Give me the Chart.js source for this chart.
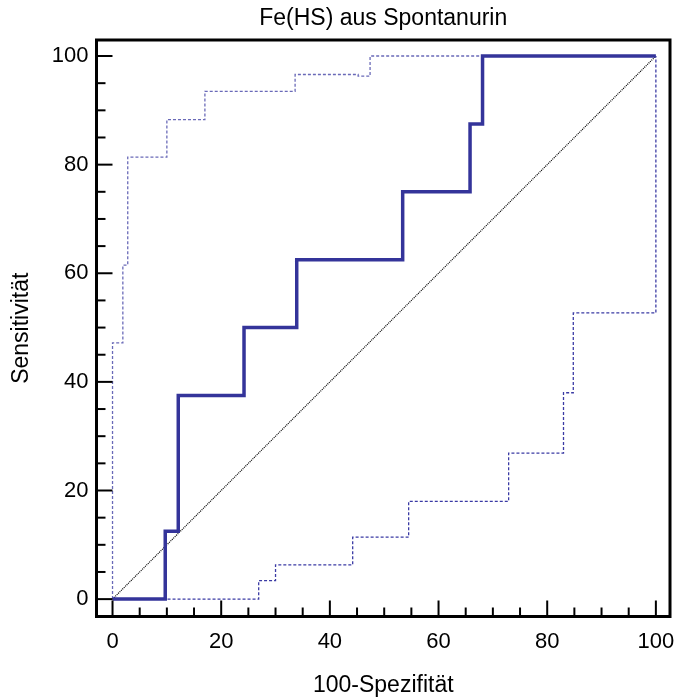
<!DOCTYPE html>
<html>
<head>
<meta charset="utf-8">
<script src="https://cdn.jsdelivr.net/npm/chart.js@4.4.1/dist/chart.umd.min.js"></script>
<style>
  html, body { margin: 0; padding: 0; background: #fff; }
  #wrap { width: 677px; height: 699px; }
</style>
</head>
<body>
<div id="wrap"><canvas id="roc"></canvas></div>
<script>
// ROC curve (100-Spezifität vs Sensitivität)
var rocFpr = [0, 9.7, 12.1, 24.2, 33.9, 53.4, 65.8, 68.1, 100];
var rocTpr = [0, 12.5, 37.5, 50, 62.5, 75, 87.5, 100, 100];

// upper confidence bound
var upperFpr = [0, 1.9, 2.8, 10, 17, 33.6, 45.2, 47.4, 100];
var upperTpr = [0, 47.2, 61.5, 81.4, 88.3, 93.5, 96.6, 96.3, 100];

// lower confidence bound
var lowerFpr = [0, 26.9, 30, 44.2, 54.5, 72.9, 83, 84.8, 100];
var lowerTpr = [0, 3.4, 6.3, 11.4, 18, 26.9, 38, 52.7, 100];

var diagX = [0, 100];
var diagY = [0, 100];

var tickValues = [0, 20, 40, 60, 80, 100];
var minorStep = 5;

function pts(xs, ys) {
  return xs.map(function (x, i) { return { x: x, y: ys[i] }; });
}

var FONT = "'Liberation Sans', Arial, sans-serif";

// frame + inward tick marks
var framePlugin = {
  id: 'frame',
  afterDraw: function (chart) {
    var ctx = chart.ctx, a = chart.chartArea;
    var sx = chart.scales.x, sy = chart.scales.y;
    ctx.save();
    ctx.strokeStyle = '#000';
    ctx.lineWidth = 2;
    for (var v = 0; v <= 100; v += minorStep) {
      var len = (v % 20 === 0) ? 16 : 9;
      var px = sx.getPixelForValue(v);
      ctx.beginPath();
      ctx.moveTo(px, a.bottom);
      ctx.lineTo(px, a.bottom - len);
      ctx.stroke();
      var py = sy.getPixelForValue(v);
      ctx.beginPath();
      ctx.moveTo(a.left, py);
      ctx.lineTo(a.left + len, py);
      ctx.stroke();
    }
    ctx.lineWidth = 3;
    ctx.strokeRect(a.left, a.top, a.right - a.left, a.bottom - a.top);
    ctx.restore();
  }
};

var ctx = document.getElementById('roc').getContext('2d');
var rocChart = new Chart(ctx, {
  type: 'line',
  data: {
    datasets: [{
      label: 'ROC',
      data: pts(rocFpr, rocTpr),
      stepped: 'before',
      borderColor: '#34349a',
      borderWidth: 3.5,
      pointRadius: 0,
      fill: false
    }, {
      label: 'upper',
      data: pts(upperFpr, upperTpr),
      stepped: 'after',
      borderColor: '#6a6ab8',
      borderWidth: 1.3,
      borderDash: [3, 2],
      pointRadius: 0,
      fill: false
    }, {
      label: 'lower',
      data: pts(lowerFpr, lowerTpr),
      stepped: 'before',
      borderColor: '#3a3aa4',
      borderWidth: 1.3,
      borderDash: [3, 2],
      pointRadius: 0,
      fill: false
    }, {
      label: 'diag',
      data: pts(diagX, diagY),
      borderColor: '#000',
      borderWidth: 1.2,
      borderDash: [1, 1],
      pointRadius: 0,
      fill: false
    }]
  },
  options: {
    responsive: true,
    maintainAspectRatio: false,
    animation: false,
    layout: { padding: { left: 0, right: 7, top: 0, bottom: 0 } },
    plugins: {
      legend: { display: false },
      tooltip: { enabled: false },
      title: {
        display: true,
        text: 'Fe(HS) aus Spontanurin',
        fullSize: false,
        color: '#000',
        font: { family: FONT, size: 23, weight: 'normal' },
        padding: { top: 5, bottom: 7.4 }
      }
    },
    scales: {
      x: {
        type: 'linear',
        min: -2.95,
        max: 102.6,
        grid: { display: false, drawTicks: false },
        border: { display: false },
        afterBuildTicks: function (s) {
          s.ticks = tickValues.map(function (v) { return { value: v }; });
        },
        afterFit: function (s) {
          s.height = 82.5;
          s.paddingLeft = 0;
          s.paddingRight = 0;
        },
        ticks: {
          color: '#000',
          padding: 12,
          maxRotation: 0,
          font: { family: FONT, size: 22 }
        },
        title: {
          display: true,
          text: '100-Spezifität',
          color: '#000',
          font: { family: FONT, size: 23 },
          padding: { top: 0, bottom: 0 }
        }
      },
      y: {
        type: 'linear',
        min: -3.2,
        max: 102.95,
        grid: { display: false, drawTicks: false },
        border: { display: false },
        afterBuildTicks: function (s) {
          s.ticks = tickValues.map(function (v) { return { value: v }; });
        },
        afterFit: function (s) {
          s.width = 96.5;
          s.paddingTop = 0;
          s.paddingBottom = 0;
        },
        ticks: {
          color: '#000',
          padding: 8,
          font: { family: FONT, size: 22 }
        },
        title: {
          display: true,
          text: 'Sensitivität',
          color: '#000',
          font: { family: FONT, size: 23 },
          padding: { top: 8, bottom: 0 }
        }
      }
    }
  },
  plugins: [framePlugin]
});
</script>
</body>
</html>
